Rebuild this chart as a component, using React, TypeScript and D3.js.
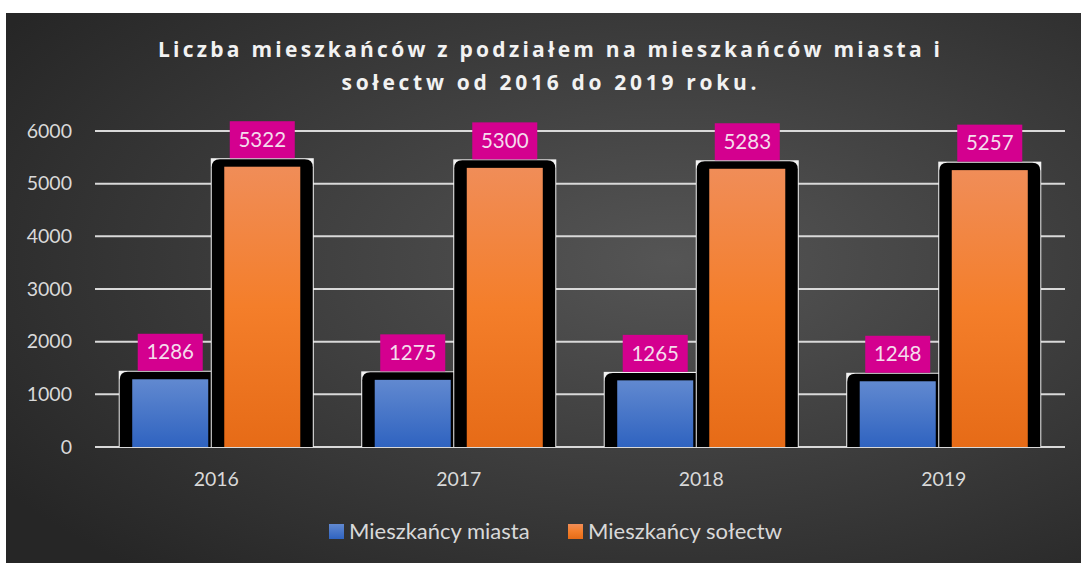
import { useEffect, useRef } from "react";
import * as d3 from "d3";

const years = ["2016", "2017", "2018", "2019"];
const seriesNames = ["Mieszkańcy miasta", "Mieszkańcy sołectw"];
const miasto = [1286, 1275, 1265, 1248];
const solectwa = [5322, 5300, 5283, 5257];
const yTicks = [0, 1000, 2000, 3000, 4000, 5000, 6000];
const titleLines = [
  "Liczba mieszkańców z podziałem na mieszkańców miasta i",
  "sołectw od 2016 do 2019 roku.",
];

const W = 1081;
const H = 563;

export default function App() {
  const svgRef = useRef<SVGSVGElement | null>(null);

  useEffect(() => {
    const svg = d3.select(svgRef.current);
    svg.selectAll("*").remove();

    const defs = svg.append("defs");
    const bg = defs.append("radialGradient").attr("id", "bg")
      .attr("cx", "62%").attr("cy", "45%").attr("r", "75%");
    bg.append("stop").attr("offset", "0%").attr("stop-color", "#555555");
    bg.append("stop").attr("offset", "100%").attr("stop-color", "#262626");

    const blue = defs.append("linearGradient").attr("id", "gBlue")
      .attr("x1", 0).attr("y1", 0).attr("x2", 0).attr("y2", 1);
    blue.append("stop").attr("offset", "0%").attr("stop-color", "#6189d0");
    blue.append("stop").attr("offset", "100%").attr("stop-color", "#2f63c0");

    const orange = defs.append("linearGradient").attr("id", "gOrange")
      .attr("x1", 0).attr("y1", 0).attr("x2", 0).attr("y2", 1);
    orange.append("stop").attr("offset", "0%").attr("stop-color", "#f08d58");
    orange.append("stop").attr("offset", "50%").attr("stop-color", "#f47e2a");
    orange.append("stop").attr("offset", "100%").attr("stop-color", "#e66b17");

    svg.append("rect").attr("x", 6).attr("y", 13)
      .attr("width", W - 6).attr("height", H - 13)
      .attr("fill", "url(#bg)");

    // title
    titleLines.forEach((t, i) => {
      svg.append("text")
        .attr("x", 549).attr("y", 57 + i * 33)
        .attr("text-anchor", "middle")
        .attr("font-family", "'Open Sans', sans-serif")
        .attr("font-weight", 700)
        .attr("font-size", 21)
        .attr("fill", "#f2f2f2")
        .attr("textLength", i === 0 ? 782 : 415)
        .attr("lengthAdjust", "spacing")
        .text(t);
    });

    const x0 = d3.scaleBand().domain(years).range([95, 1065])
      .paddingInner(0.307).paddingOuter(0.1535);
    const x1 = d3.scaleBand().domain(seriesNames).range([0, x0.bandwidth()])
      .paddingInner(0.174);
    const y = d3.scaleLinear().domain([0, 6000]).range([447, 131]);

    // grid + y labels
    const yAxis = svg.append("g");
    yTicks.forEach((t) => {
      yAxis.append("line")
        .attr("x1", 95).attr("x2", 1065)
        .attr("y1", y(t)).attr("y2", y(t))
        .attr("stroke", "#d9d9d9").attr("stroke-width", 2);
      yAxis.append("text")
        .attr("x", 72).attr("y", y(t)).attr("dy", "0.35em")
        .attr("text-anchor", "end")
        .attr("font-family", "Lato, sans-serif").attr("font-size", 19.5)
        .attr("fill", "#d9d9d9")
        .text(t);
    });

    // x labels
    years.forEach((yr) => {
      svg.append("text")
        .attr("x", (x0(yr) as number) + x0.bandwidth() / 2).attr("y", 479)
        .attr("dy", "0.35em").attr("text-anchor", "middle")
        .attr("font-family", "Lato, sans-serif").attr("font-size", 19.5)
        .attr("fill", "#d9d9d9")
        .text(yr);
    });

    const series = [
      { name: seriesNames[0], values: miasto, fill: "url(#gBlue)" },
      { name: seriesNames[1], values: solectwa, fill: "url(#gOrange)" },
    ];

    const pad = 12.5, top = 7.5, r = 8;
    const bars = svg.append("g");
    const labels = svg.append("g");
    years.forEach((yr, i) => {
      series.forEach((s) => {
        const bx = (x0(yr) as number) + (x1(s.name) as number);
        const bw = x1.bandwidth();
        const by = y(s.values[i]);
        const base = y(0);
        const l = bx - pad, rr = bx + bw + pad, t = by - top;
        bars.append("rect")
          .attr("x", l - 1).attr("y", t - 1)
          .attr("width", rr - l + 2).attr("height", base - t + 1)
          .attr("fill", "#f2f2f2");
        const p = d3.path();
        p.moveTo(l, base);
        p.lineTo(l, t + r);
        p.quadraticCurveTo(l, t, l + r, t);
        p.lineTo(rr - r, t);
        p.quadraticCurveTo(rr, t, rr, t + r);
        p.lineTo(rr, base);
        p.closePath();
        bars.append("path").attr("d", p.toString()).attr("fill", "#000");
        bars.append("rect")
          .attr("x", bx).attr("y", by)
          .attr("width", bw).attr("height", base - by)
          .attr("fill", s.fill);

        const cx = bx + bw / 2;
        labels.append("rect")
          .attr("x", cx - 32.5).attr("y", t - 38)
          .attr("width", 65).attr("height", 37)
          .attr("fill", "#d4008f");
        labels.append("text")
          .attr("x", cx).attr("y", t - 19.5).attr("dy", "0.35em")
          .attr("text-anchor", "middle")
          .attr("font-family", "Lato, sans-serif").attr("font-size", 20.5)
          .attr("fill", "#f5dcec")
          .text(s.values[i]);
      });
    });

    // legend
    const legend = svg.append("g");
    const lx = [329, 568];
    series.forEach((s, i) => {
      legend.append("rect")
        .attr("x", lx[i]).attr("y", 524).attr("width", 15).attr("height", 15)
        .attr("fill", s.fill);
      legend.append("text")
        .attr("x", lx[i] + 20).attr("y", 531).attr("dy", "0.35em")
        .attr("font-family", "Lato, sans-serif").attr("font-size", 22)
        .attr("fill", "#d9d9d9")
        .text(s.name);
    });
  }, []);

  return (
    <svg
      ref={svgRef}
      width={W}
      height={H}
      style={{ position: "absolute", left: 0, top: 0, background: "#fff" }}
    />
  );
}
